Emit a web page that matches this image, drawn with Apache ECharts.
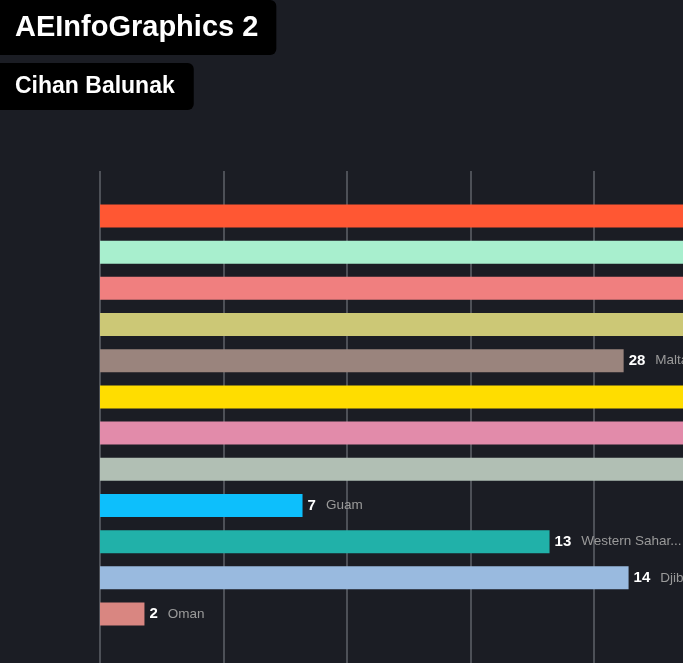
<!DOCTYPE html>
<html>
<head>
<meta charset="utf-8">
<title>AEInfoGraphics 2</title>
<script src="https://cdn.jsdelivr.net/npm/echarts@6/dist/echarts.min.js"></script>
<style>
  html, body { margin: 0; padding: 0; background: #1b1d24; overflow: hidden; }
  #chart { position: absolute; left: 0; top: 0; width: 683px; height: 663px; }
</style>
</head>
<body>
<div id="chart"></div>
<script>
// ---------------------------------------------------
// Datos (fotograma a mitad de animación: el largo de barra y la etiqueta no coinciden)
// ---------------------------------------------------
const countries = ['Bahrain', 'Qatar', 'Kuwait', 'Jordan', 'Malta', 'Cyprus',
  'Lebanon', 'Brunei', 'Guam', 'Western Sahara', 'Djibouti', 'Oman'];
const barValues = [28.5, 27.4, 26.8, 26.1, 21.2, 25.6, 25.0, 24.4, 8.2, 18.2, 21.4, 1.8];
const labelValues = [52, 47, 43, 39, 28, 36, 33, 31, 7, 13, 14, 2];
const barColors = ['#ff5733', '#a8efce', '#f07f7f', '#ccc876', '#9a847d', '#ffdd00',
  '#e28baa', '#b1bfb4', '#0dbffc', '#21b1a9', '#99badf', '#d98681'];

const FONT = "'Liberation Sans', Arial, sans-serif";

function shortName(name) {
  return name.length > 13 ? name.slice(0, 13) + '...' : name;
}

const chart = echarts.init(document.getElementById('chart'));

const option = {
  backgroundColor: '#1b1d24',
  animation: false,
  title: [
    {
      text: 'AEInfoGraphics 2',
      left: -8,
      top: 0,
      backgroundColor: '#000',
      borderRadius: 6,
      padding: [10, 18, 10, 23],
      textStyle: { color: '#fff', fontFamily: FONT, fontWeight: 'bold', fontSize: 29, lineHeight: 35 }
    },
    {
      text: 'Cihan Balunak',
      left: -8,
      top: 63,
      backgroundColor: '#000',
      borderRadius: 6,
      padding: [10, 19, 10, 23],
      textStyle: { color: '#fff', fontFamily: FONT, fontWeight: 'bold', fontSize: 23, lineHeight: 27 }
    }
  ],
  grid: [
    // barras (el área sigue más allá del borde derecho)
    { left: 100, width: 741, top: 197.9, height: 434.2, outerBoundsMode: 'none' },
    // líneas verticales de fondo
    { left: 100, width: 741, top: 171, height: 540, outerBoundsMode: 'none' }
  ],
  xAxis: [
    { gridIndex: 0, type: 'value', min: 0, max: 30, interval: 5, show: false },
    {
      gridIndex: 1, type: 'value', min: 0, max: 30, interval: 5,
      axisLine: { show: false }, axisTick: { show: false }, axisLabel: { show: false },
      splitLine: { show: true, lineStyle: { color: '#5f6268', width: 1.5 } }
    }
  ],
  yAxis: [
    { gridIndex: 0, type: 'category', data: countries, inverse: true, show: false },
    { gridIndex: 1, type: 'value', min: 0, max: 1, show: false }
  ],
  series: [
    {
      type: 'bar',
      xAxisIndex: 0,
      yAxisIndex: 0,
      barWidth: 23,
      data: barValues.map((v, i) => ({ value: v, itemStyle: { color: barColors[i] } })),
      label: {
        show: true,
        position: 'right',
        distance: 5,
        formatter: (p) => `{v|${labelValues[p.dataIndex]}}{n|${shortName(countries[p.dataIndex])}}`,
        rich: {
          v: { color: '#fff', fontFamily: FONT, fontWeight: 'bold', fontSize: 15 },
          n: { color: '#9a9a9a', fontFamily: FONT, fontSize: 13.5, padding: [0, 0, 0, 10] }
        }
      }
    }
  ]
};

chart.setOption(option);

window.addEventListener('resize', () => chart.resize());
</script>
</body>
</html>
